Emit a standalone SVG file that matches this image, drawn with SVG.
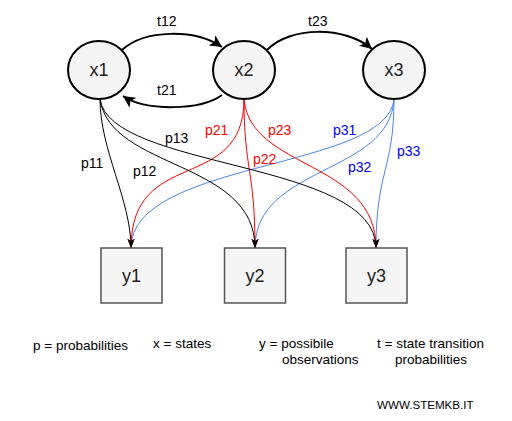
<svg xmlns="http://www.w3.org/2000/svg" width="512" height="421" viewBox="0 0 512 421">
<style>
.state{fill:#f5f5f5;stroke:#000;stroke-width:2}
.obs{fill:#f5f5f5;stroke:#555;stroke-width:1.5}
.nt{font-family:"Liberation Sans",Arial,sans-serif;font-size:18px;fill:#222;text-anchor:middle}
.lb{font-family:"Liberation Sans",Arial,sans-serif;font-size:14px}
.ft{font-family:"Liberation Sans",Arial,sans-serif;font-size:13.5px;fill:#000}
.tr{fill:none;stroke:#000;stroke-width:2}
.pk{fill:none;stroke:#000;stroke-width:1}
.pr{fill:none;stroke:#ff0000;stroke-width:1}
.pb{fill:none;stroke:#4a86e8;stroke-width:1}
</style>
<defs>
<marker id="big" markerUnits="userSpaceOnUse" markerWidth="14" markerHeight="12" viewBox="0 0 14 12" refX="12" refY="6" orient="auto">
<path d="M0,0 L12,6 L0,12 L3,6 Z" fill="#000"/>
</marker>
<marker id="ak" markerUnits="userSpaceOnUse" markerWidth="10" markerHeight="8" viewBox="0 0 10 8" refX="9" refY="4" orient="auto">
<path d="M0,0.5 L9,4 L0,7.5 L2,4 Z" fill="#000"/>
</marker>
<marker id="ar" markerUnits="userSpaceOnUse" markerWidth="10" markerHeight="8" viewBox="0 0 10 8" refX="9" refY="4" orient="auto">
<path d="M0,0.5 L9,4 L0,7.5 L2,4 Z" fill="#ff0000"/>
</marker>
<marker id="ab" markerUnits="userSpaceOnUse" markerWidth="10" markerHeight="8" viewBox="0 0 10 8" refX="9" refY="4" orient="auto">
<path d="M0,0.5 L9,4 L0,7.5 L2,4 Z" fill="#4a86e8"/>
</marker>
</defs>
<g id="connectors">
<path class="tr" d="M122,50 C145,29 195,29 222,47" marker-end="url(#big)"/>
<path class="tr" d="M267,50 C290,26 345,26 372,49" marker-end="url(#big)"/>
<path class="tr" d="M222,95 C200,111 145,111 123,96" marker-end="url(#big)"/>
<path class="pb" d="M394,99 C388,170 131,160 131,248" marker-end="url(#ab)"/>
<path class="pb" d="M394,99 C390,175 255,165 255,248" marker-end="url(#ab)"/>
<path class="pb" d="M394,99 C394,170 376,170 376,248" marker-end="url(#ab)"/>
<path class="pr" d="M244,99 C244,195 131,145 131,248" marker-end="url(#ar)"/>
<path class="pr" d="M244,99 C244,170 255,170 255,248" marker-end="url(#ar)"/>
<path class="pr" d="M244,99 C250,170 376,160 376,248" marker-end="url(#ar)"/>
<path class="pk" d="M100,99 C100,150 131,200 131,248" marker-end="url(#ak)"/>
<path class="pk" d="M100,99 C110,170 255,160 255,248" marker-end="url(#ak)"/>
<path class="pk" d="M100,99 C110,170 376,160 376,248" marker-end="url(#ak)"/>
<text class="lb" x="157" y="26" fill="#000">t12</text>
<text class="lb" x="308" y="26" fill="#000">t23</text>
<text class="lb" x="157" y="95" fill="#000">t21</text>
<text class="lb" x="81" y="168" fill="#000">p11</text>
<text class="lb" x="133" y="176" fill="#000">p12</text>
<text class="lb" x="165" y="143" fill="#000">p13</text>
<text class="lb" x="205" y="135" fill="#ff0000">p21</text>
<text class="lb" x="253" y="164" fill="#ff0000">p22</text>
<text class="lb" x="268" y="135" fill="#ff0000">p23</text>
<text class="lb" x="333" y="135" fill="#0000ff">p31</text>
<text class="lb" x="348" y="172" fill="#0000ff">p32</text>
<text class="lb" x="397" y="156" fill="#0000ff">p33</text>
</g>
<g id="x1"><ellipse class="state" cx="99" cy="70" rx="31" ry="29"/><text class="nt" x="99" y="76">x1</text></g>
<g id="x2"><ellipse class="state" cx="244" cy="70" rx="31" ry="29"/><text class="nt" x="244" y="76">x2</text></g>
<g id="x3"><ellipse class="state" cx="394" cy="70" rx="31" ry="29"/><text class="nt" x="394" y="76">x3</text></g>
<g id="y1"><rect class="obs" x="101" y="248" width="61" height="55"/><text class="nt" x="131.5" y="282">y1</text></g>
<g id="y2"><rect class="obs" x="224.5" y="248" width="61" height="55"/><text class="nt" x="255" y="282">y2</text></g>
<g id="y3"><rect class="obs" x="346" y="248" width="61" height="55"/><text class="nt" x="376.5" y="282">y3</text></g>
<g id="legend">
<text class="ft" x="33" y="350">p = probabilities</text>
<text class="ft" x="153" y="348">x = states</text>
<text class="ft" x="259" y="348">y = possibile</text>
<text class="ft" x="282" y="364">observations</text>
<text class="ft" x="377" y="348">t = state transition</text>
<text class="ft" x="395" y="364">probabilities</text>
<text class="ft" x="377" y="409" style="font-size:11.6px">WWW.STEMKB.IT</text>
</g>
</svg>
